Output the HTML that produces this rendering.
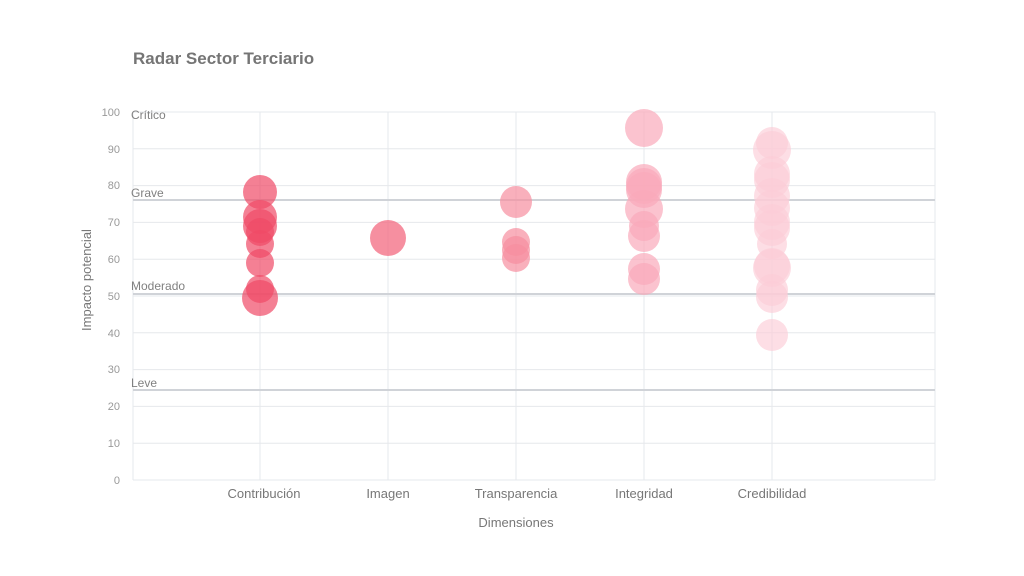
<!DOCTYPE html>
<html><head><meta charset="utf-8"><style>
html,body{margin:0;padding:0;background:#fff;}
svg{display:block;font-family:"Liberation Sans",sans-serif;}
</style></head><body>
<svg width="1024" height="576" viewBox="0 0 1024 576">
<text x="133" y="64" font-size="17" font-weight="bold" fill="#757575">Radar Sector Terciario</text>
<g stroke="#e6e8ec" stroke-width="1">
<line x1="133" y1="112" x2="935" y2="112"/>
<line x1="133" y1="148.8" x2="935" y2="148.8"/>
<line x1="133" y1="185.6" x2="935" y2="185.6"/>
<line x1="133" y1="222.4" x2="935" y2="222.4"/>
<line x1="133" y1="259.2" x2="935" y2="259.2"/>
<line x1="133" y1="296" x2="935" y2="296"/>
<line x1="133" y1="332.8" x2="935" y2="332.8"/>
<line x1="133" y1="369.6" x2="935" y2="369.6"/>
<line x1="133" y1="406.4" x2="935" y2="406.4"/>
<line x1="133" y1="443.2" x2="935" y2="443.2"/>
<line x1="133" y1="480" x2="935" y2="480"/>
<line x1="133" y1="112" x2="133" y2="480"/>
<line x1="260" y1="112" x2="260" y2="480"/>
<line x1="388" y1="112" x2="388" y2="480"/>
<line x1="516" y1="112" x2="516" y2="480"/>
<line x1="644" y1="112" x2="644" y2="480"/>
<line x1="772" y1="112" x2="772" y2="480"/>
<line x1="935" y1="112" x2="935" y2="480"/>
</g>
<g stroke="#d0d3d8" stroke-width="2">
<line x1="133" y1="200" x2="935" y2="200"/>
<line x1="133" y1="294" x2="935" y2="294"/>
<line x1="133" y1="390" x2="935" y2="390"/>
</g>
<g font-size="12" fill="#808080">
<text x="131" y="119">Crítico</text>
<text x="131" y="197">Grave</text>
<text x="131" y="290">Moderado</text>
<text x="131" y="387">Leve</text>
</g>
<g font-size="11" fill="#999" text-anchor="end">
<text x="120" y="116">100</text><text x="120" y="153">90</text><text x="120" y="189">80</text>
<text x="120" y="226">70</text><text x="120" y="263">60</text><text x="120" y="300">50</text>
<text x="120" y="337">40</text><text x="120" y="373">30</text><text x="120" y="410">20</text>
<text x="120" y="447">10</text><text x="120" y="484">0</text>
</g>
<g font-size="13" fill="#777" text-anchor="middle">
<text x="264" y="498">Contribución</text><text x="388" y="498">Imagen</text>
<text x="516" y="498">Transparencia</text><text x="644" y="498">Integridad</text>
<text x="772" y="498">Credibilidad</text>
<text x="516" y="527">Dimensiones</text>
<text transform="translate(91,280) rotate(-90)">Impacto potencial</text>
</g>
<g fill="#f04a66" fill-opacity="0.7">
<circle cx="260" cy="192" r="17"/><circle cx="260" cy="217" r="17"/><circle cx="260" cy="226" r="17"/>
<circle cx="260" cy="232" r="14"/><circle cx="260" cy="244" r="14"/><circle cx="260" cy="263" r="14"/>
<circle cx="260" cy="289" r="14"/><circle cx="260" cy="298" r="18"/>
</g>
<g fill="#f36a80" fill-opacity="0.75"><circle cx="388" cy="238" r="18"/></g>
<g fill="#f78ea0" fill-opacity="0.7">
<circle cx="516" cy="202" r="16"/><circle cx="516" cy="242" r="14"/><circle cx="516" cy="250" r="14"/><circle cx="516" cy="258" r="14"/>
</g>
<g fill="#f9aabb" fill-opacity="0.7">
<circle cx="644" cy="128" r="19"/><circle cx="644" cy="182" r="18"/><circle cx="644" cy="186" r="18"/>
<circle cx="644" cy="190" r="18"/><circle cx="644" cy="209" r="19"/><circle cx="644" cy="226" r="15"/>
<circle cx="644" cy="236" r="16"/><circle cx="644" cy="269" r="16"/><circle cx="644" cy="279" r="16"/>
</g>
<g fill="#fcccd7" fill-opacity="0.65">
<circle cx="772" cy="143" r="16"/><circle cx="772" cy="150" r="19"/><circle cx="772" cy="174" r="18"/>
<circle cx="772" cy="180" r="18"/><circle cx="772" cy="196" r="18"/><circle cx="772" cy="208" r="18"/>
<circle cx="772" cy="222" r="18"/><circle cx="772" cy="228" r="18"/><circle cx="772" cy="244" r="15"/>
<circle cx="772" cy="266" r="18"/><circle cx="772" cy="268" r="19"/><circle cx="772" cy="290" r="16"/>
<circle cx="772" cy="297" r="16"/><circle cx="772" cy="335" r="16"/>
</g>
</svg>
</body></html>
